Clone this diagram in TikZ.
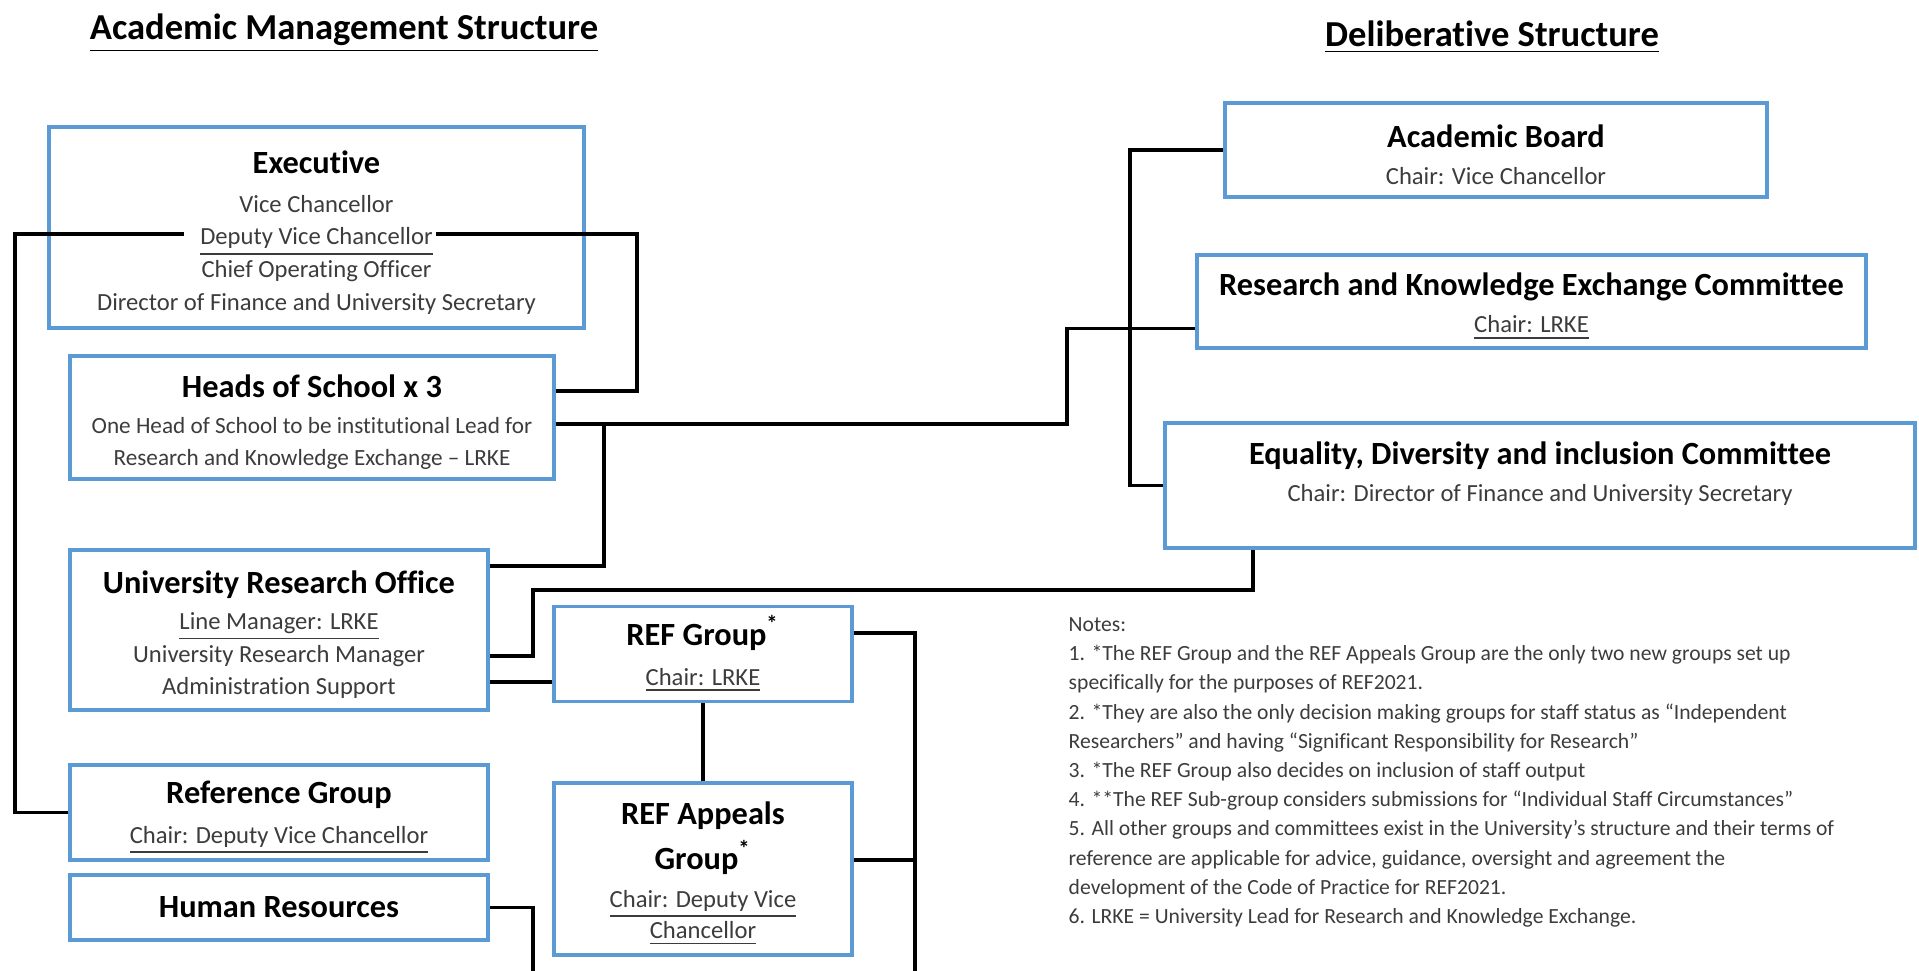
\documentclass[tikz,border=0pt]{standalone}
\usepackage{fontspec}
\setmainfont{Carlito}[Ligatures={TeX,NoCommon}]
\usepackage{tikz}
\usetikzlibrary{calc}
\definecolor{boxblue}{RGB}{91,155,213}
\definecolor{bodygray}{RGB}{60,60,60}
\newcommand{\plaintitle}[1]{{\fontsize{9.2}{11}\selectfont\bfseries\color{black}#1}}
\newcommand{\boxtitle}[1]{\plaintitle{\rule{0pt}{9.2pt}#1}}
\newcommand{\smalltxt}[1]{{\fontsize{6.6}{8.25}\selectfont #1}}
\tikzset{
	box/.style 2 args={draw=boxblue,line width=1pt,fill=white,align=center,inner sep=0pt,minimum width=#1,minimum height=#2,text=bodygray,font=\fontsize{7}{9.3}\selectfont},
	link/.style={line width=1.1pt,black},
	heading/.style={font=\fontsize{10.4}{12}\selectfont\bfseries,text=black},
	notes/.style={align=left,inner sep=0pt,text=bodygray,font=\fontsize{6.15}{8.3}\selectfont}
}

\begin{document}
\begin{tikzpicture}[x=0.01cm,y=-0.01cm]
	\useasboundingbox (0,0) rectangle (1919,971);

	\node [heading] (amtitle) at (344,33) {\underline{Academic Management Structure}};
	\node [heading] (dstitle) at (1492,37) {\underline{Deliberative Structure}};

	\node [box={5.35cm}{2.01cm}] (exec) at (316.5,227.5) {\boxtitle{Executive}\\[1.85pt] Vice Chancellor\\ \underline{Deputy Vice Chancellor}\\ Chief Operating Officer\\ Director of Finance and University Secretary};
	\node [box={4.84cm}{1.23cm}] (hos) at (312,417.5) {\boxtitle{Heads of School x 3}\\[0.85pt] \smalltxt{One Head of School to be institutional Lead for}\\ \smalltxt{Research and Knowledge Exchange – LRKE}};
	\node [box={4.18cm}{1.60cm}] (uro) at (279,630) {\boxtitle{University Research Office}\\[0.85pt] \underline{Line Manager: LRKE}\\ University Research Manager\\ Administration Support};
	\node [box={4.18cm}{0.95cm}] (refgrp) at (279,812.5) {\boxtitle{Reference Group}\\[2pt] \underline{Chair: Deputy Vice Chancellor}};
	\node [box={4.18cm}{0.65cm}] (hr) at (279,907.5) {\plaintitle{Human Resources}};
	\node [box={2.98cm}{0.95cm}] (refg) at (703,654) {\plaintitle{REF Group\textsuperscript{*}}\\[2pt] \underline{Chair: LRKE}};
	\node [box={2.98cm}{1.72cm}] (appeals) at (703,869) {\boxtitle{REF Appeals}\\[2pt] \plaintitle{Group\textsuperscript{*}}\\[1.3pt] \underline{Chair: Deputy Vice}\\[-0.35pt] \underline{Chancellor}};

	\node [box={5.42cm}{0.94cm}] (board) at (1496,150) {\boxtitle{Academic Board}\\[1.35pt] Chair: Vice Chancellor};
	\node [box={6.69cm}{0.93cm}] (rke) at (1531.5,301.5) {\boxtitle{Research and Knowledge Exchange Committee}\\[1.35pt] \underline{Chair: LRKE}};
	\node [box={7.50cm}{1.25cm}] (edi) at (1540,485.5) {\boxtitle{Equality, Diversity and inclusion Committee}\\[1.35pt] Chair: Director of Finance and University Secretary\\[1.4pt] \mbox{}};

	\node [notes,anchor=north west] (notes) at (1068,617) {Notes:\\
		1. *The REF Group and the REF Appeals Group are the only two new groups set up\\
		specifically for the purposes of REF2021.\\
		2. *They are also the only decision making groups for staff status as “Independent\\
		Researchers” and having “Significant Responsibility for Research”\\
		3. *The REF Group also decides on inclusion of staff output\\
		4. **The REF Sub-group considers submissions for “Individual Staff Circumstances”\\
		5. All other groups and committees exist in the University’s structure and their terms of\\
		reference are applicable for advice, guidance, oversight and agreement the\\
		development of the Code of Practice for REF2021.\\
		6. LRKE = University Lead for Research and Knowledge Exchange.};

	\coordinate (dvcL) at (184,234);
	\coordinate (dvcR) at (436,234);
	\coordinate (hosR1) at ($(hos.north east)!0.29!(hos.south east)$);
	\coordinate (hosR2) at ($(hos.north east)!0.55!(hos.south east)$);
	\coordinate (rkeL) at ($(rke.north west)!0.78!(rke.south west)$);
	\coordinate (uroR1) at ($(uro.north east)!0.11!(uro.south east)$);
	\coordinate (uroR2) at ($(uro.north east)!0.66!(uro.south east)$);
	\coordinate (uroR3) at ($(uro.north east)!0.82!(uro.south east)$);
	\coordinate (ediB) at ($(edi.south west)!0.119!(edi.south east)$);
	\coordinate (refgR) at ($(refg.north east)!0.29!(refg.south east)$);
	\coordinate (appealsR) at ($(appeals.north east)!0.45!(appeals.south east)$);
	\coordinate (hrB) at (533,975);
	\coordinate (refB) at (915,975);

	\draw [link] (dvcL) -- ++(-169,0) |- (refgrp.west);
	\draw [link] (dvcR) -- ++(201,0) |- (hosR1);
	\draw [link] (hosR2) -- ++(511,0) |- (rkeL);
	\draw [link] (hosR2) ++(48,0) |- (uroR1);
	\draw [link] (board.west) -- ++(-93,0) |- (edi.west);
	\draw [link] (ediB) -- ++(0,40) -| (hrB |- uroR2) -- (uroR2);
	\draw [link] (uroR3) -- (uroR3 -| refg.west);
	\draw [link] (refg.south) -- (appeals.north);
	\draw [link] (refgR) -| (refB);
	\draw [link] (appealsR) -- (appealsR -| refB);
	\draw [link] (hr.east) -| (hrB);
\end{tikzpicture}
\end{document}
